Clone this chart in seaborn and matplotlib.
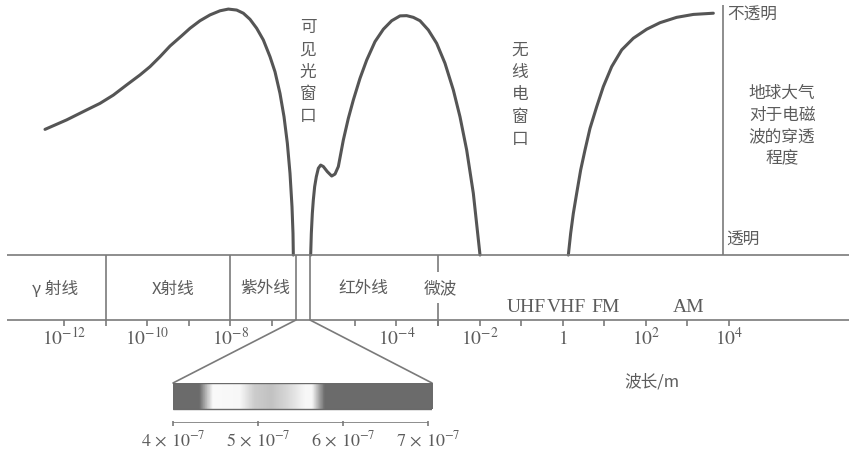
import numpy as np
import pandas as pd
import matplotlib
matplotlib.use("Agg")
import matplotlib.pyplot as plt
import seaborn as sns
from matplotlib.colors import LinearSegmentedColormap

sns.set_theme(style="white")
plt.rcParams["font.family"] = ["Noto Sans CJK SC", "DejaVu Sans"]
plt.rcParams["mathtext.fontset"] = "stix"

# ── data: atmospheric opacity vs log10(wavelength / m) ──────────
# 0 = transparent, 1 = opaque
seg1_logw = [-12.457, -11.936, -11.455, -11.134, -10.813, -10.492, -10.171, -9.931,
             -9.690, -9.449, -9.169, -8.968, -8.728, -8.487, -8.246, -8.046, -7.845,
             -7.685, -7.525, -7.364, -7.204, -7.043, -6.923, -6.803, -6.706, -6.626,
             -6.562, -6.514, -6.490, -6.482]
seg1_op = [0.517, 0.556, 0.597, 0.624, 0.658, 0.700, 0.741, 0.775, 0.816, 0.860,
           0.902, 0.933, 0.964, 0.988, 1.005, 1.012, 1.008, 0.995, 0.970, 0.933,
           0.885, 0.816, 0.754, 0.665, 0.569, 0.460, 0.336, 0.199, 0.089, 0.0]

seg2_logw = [-6.065, -6.049, -6.025, -6.001, -5.969, -5.929, -5.880, -5.824, -5.760,
             -5.664, -5.559, -5.479, -5.399, -5.279, -5.159, -5.038, -4.878, -4.717,
             -4.517, -4.316, -4.116, -3.915, -3.755, -3.595, -3.434, -3.234, -3.033,
             -2.833, -2.632, -2.472, -2.311, -2.151, -1.990]
seg2_op = [0.0, 0.089, 0.171, 0.226, 0.281, 0.322, 0.357, 0.370, 0.364, 0.343, 0.325,
           0.333, 0.364, 0.473, 0.562, 0.638, 0.727, 0.802, 0.878, 0.929, 0.964, 0.984,
           0.985, 0.978, 0.964, 0.926, 0.871, 0.789, 0.679, 0.569, 0.432, 0.254, 0.0]

seg3_logw = [0.135, 0.191, 0.255, 0.336, 0.432, 0.536, 0.656, 0.817, 0.977, 1.178,
             1.419, 1.699, 2.020, 2.341, 2.742, 3.143, 3.624]
seg3_op = [0.0, 0.089, 0.171, 0.254, 0.350, 0.432, 0.521, 0.610, 0.693, 0.775,
           0.844, 0.892, 0.929, 0.956, 0.978, 0.990, 0.995]

# spectrum bands
band_edges = [-11, -8, -6.42, -6.08]
microwave_edge = -3
band_names = ["γ 射线", "X射线", "紫外线", "红外线"]
band_centers = [-12.22, -9.38, -7.16, -4.81]
radio_names = ["UHF", "VHF", "FM", "AM"]
radio_centers = [-0.89, 0.10, 1.03, 3.03]
tick_exps = [-12, -11, -10, -9, -8, -7, -5, -4, -3, -2, -1, 0, 1, 2, 3, 4]
label_exps = [-12, -10, -8, -4, -2, 0, 2, 4]

# visible spectrum (nm) and its brightness
vis_ticks = [400, 500, 600, 700]
vis_nodes = [400, 430, 446, 478, 495, 515, 535, 555, 563, 578, 705]
vis_gray = [0.42, 0.42, 0.98, 0.97, 0.80, 0.76, 0.85, 0.97, 0.97, 0.42, 0.42]

# ── layout (pixel mapping) ────────────────────────────────────
W, H = 849, 451
X0, DEC = 64, 41.56          # px of 1e-12, px per decade
Y0, YUNIT = 255, 243         # px of transparent level, px per unit opacity
NM_PX = 0.85                 # px per nm in the inset


def lx(px):
    return (px - X0) / DEC - 12


def ly(py):
    return (Y0 - py) / YUNIT


curve_col = "#555555"
line_col = "#7a7a7a"
txt_col = "#5c5c5c"

fig = plt.figure(figsize=(W / 100, H / 100), dpi=100)
ax = fig.add_axes([0, 0, 1, 1])
ax.set_xlim(lx(0), lx(W))
ax.set_ylim(ly(H), ly(0))
ax.axis("off")

df = pd.concat([
    pd.DataFrame({"logw": seg1_logw, "op": seg1_op, "seg": 1}),
    pd.DataFrame({"logw": seg2_logw, "op": seg2_op, "seg": 2}),
    pd.DataFrame({"logw": seg3_logw, "op": seg3_op, "seg": 3}),
])
sns.lineplot(data=df, x="logw", y="op", units="seg", estimator=None, sort=False,
             color=curve_col, lw=2.2, ax=ax, legend=False,
             solid_joinstyle="round", solid_capstyle="round")

# right-hand scale
ax.vlines(lx(723), 0, ly(5), color=line_col, lw=1.2)
ax.text(lx(727), ly(15), "不透明", color=txt_col, fontsize=12, va="center", ha="left")
ax.text(lx(726), ly(240), "透明", color=txt_col, fontsize=12, va="center", ha="left")
ax.text(lx(782), ly(126), "地球大气\n对于电磁\n波的穿透\n程度", color=txt_col, fontsize=12,
        va="center", ha="center", linespacing=1.35)
ax.text(lx(308), ly(72), "\n".join("可见光窗口"), color=txt_col, fontsize=12,
        va="center", ha="center", linespacing=1.4)
ax.text(lx(520), ly(95), "\n".join("无线电窗口"), color=txt_col, fontsize=12,
        va="center", ha="center", linespacing=1.4)

# spectrum band
band_top, band_bot = ly(255), ly(320)
ax.hlines([band_top, band_bot], lx(7), lx(W), color=line_col, lw=1.2)
ax.vlines(band_edges, band_bot, band_top, color=line_col, lw=1.2)
ax.vlines(microwave_edge, ly(272), band_top, color=line_col, lw=1.2)
ax.vlines(microwave_edge, band_bot - 6 / YUNIT, ly(303), color=line_col, lw=1.2)
for name, c in zip(band_names, band_centers):
    ax.text(c, ly(289), name, color=txt_col, fontsize=12, ha="center", va="center")
ax.text(microwave_edge + 0.05, ly(289), "微波", color=txt_col, fontsize=12,
        ha="center", va="center")
for name, c in zip(radio_names, radio_centers):
    ax.text(c, ly(308), name, color=txt_col, fontsize=14, ha="center", va="center",
            family="Liberation Serif")

ax.vlines(tick_exps, band_bot - 6 / YUNIT, band_bot, color=line_col, lw=1.2)
for e in label_exps:
    lab = "$1$" if e == 0 else f"$10^{{{e}}}$"
    ax.text(e, ly(339), lab, color=txt_col, fontsize=14, ha="center", va="center")
ax.text(lx(652), ly(382), "波长/m", color=txt_col, fontsize=12, ha="center", va="center")

# zoom lines to the visible spectrum
ax.plot([band_edges[2], lx(173)], [band_bot, ly(383)], color=line_col, lw=1.2)
ax.plot([band_edges[3], lx(432)], [band_bot, ly(383)], color=line_col, lw=1.2)

# inset: visible spectrum
nm_lo, nm_hi = vis_nodes[0], vis_nodes[-1]
ax2 = fig.add_axes([173 / W, 1 - 423 / H, (nm_hi - nm_lo) * NM_PX / W, 40 / H])
ax2.axis("off")
cmap = LinearSegmentedColormap.from_list(
    "vis", [((n - nm_lo) / (nm_hi - nm_lo), (g, g, g)) for n, g in zip(vis_nodes, vis_gray)])
ax2.imshow(np.linspace(0, 1, 400)[None, :], cmap=cmap, aspect="auto",
           extent=(nm_lo, nm_hi, 0.36, 1.0), interpolation="bilinear")
ax2.add_patch(plt.Rectangle((nm_lo, 0.36), nm_hi - nm_lo, 0.64, fill=False,
                            edgecolor="#6a6a6a", lw=1.0))
ax2.hlines(0, vis_ticks[0], vis_ticks[-1], color=line_col, lw=1.2)
ax2.vlines(vis_ticks, -0.08, 0.06, color=line_col, lw=1.2, clip_on=False)
for t in vis_ticks:
    ax2.text(t, -0.43, rf"${t // 100}\,\times\,10^{{-7}}$", color=txt_col, fontsize=13,
             ha="center", va="center", clip_on=False)
ax2.set_xlim(nm_lo, nm_hi)
ax2.set_ylim(0, 1)

fig.savefig("out.png", dpi=100)
